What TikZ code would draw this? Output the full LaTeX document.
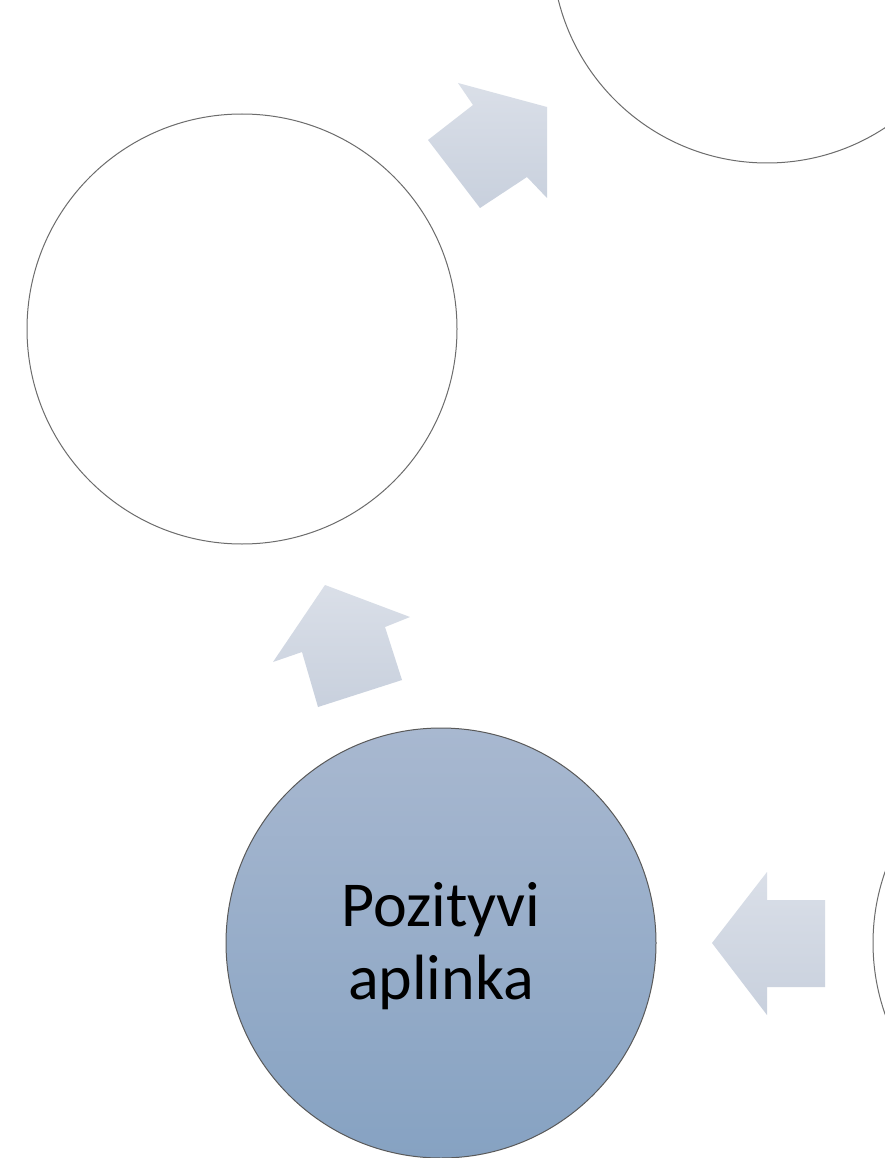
\documentclass[tikz,border=0pt]{standalone}
\usepackage{fontspec}
\setmainfont{Carlito}
\begin{document}
\begin{tikzpicture}[x=1pt,y=-1pt,
  ring/.style={circle, draw=gray!85!black, line width=1pt, minimum size=430pt, inner sep=0pt},
  mainring/.style={ring, draw=gray!70!black, top color=blue8top, bottom color=blue8bot},
  blockarrow/.style={top color=arrtop, bottom color=arrbot, draw=none}]
\definecolor{blue8top}{HTML}{A8B8D0}
\definecolor{blue8bot}{HTML}{86A2C2}
\definecolor{arrtop}{HTML}{DADFE8}
\definecolor{arrbot}{HTML}{C8D0DD}
\useasboundingbox (0,0) rectangle (885,1158);
\clip (0,0) rectangle (885,1158);
\fill[white] (0,0) rectangle (885,1158);
% circles
\node[ring] (topright) at (767,-52) {};
\node[ring] (left) at (242,329) {};
\node[ring] (right) at (1088,943) {};
\node[mainring] (main) at (441,943) {};
\node[align=center, font=\fontsize{64}{73}\selectfont] (label) at (441,946) {Pozityvi\\aplinka};
% block arrows
\shade[blockarrow] (458,83) -- (547,107) -- (547,198) -- (527,177) -- (480,208) -- (428,140) -- (473,105) -- cycle;
\shade[blockarrow] (325,585) -- (410,617) -- (385,627) -- (402,680) -- (318,707) -- (302,652) -- (273,662) -- cycle;
\shade[blockarrow] (767,872) -- (767,900) -- (825,900) -- (825,987) -- (767,987) -- (767,1015) -- (712,943) -- cycle;
\end{tikzpicture}
\end{document}
